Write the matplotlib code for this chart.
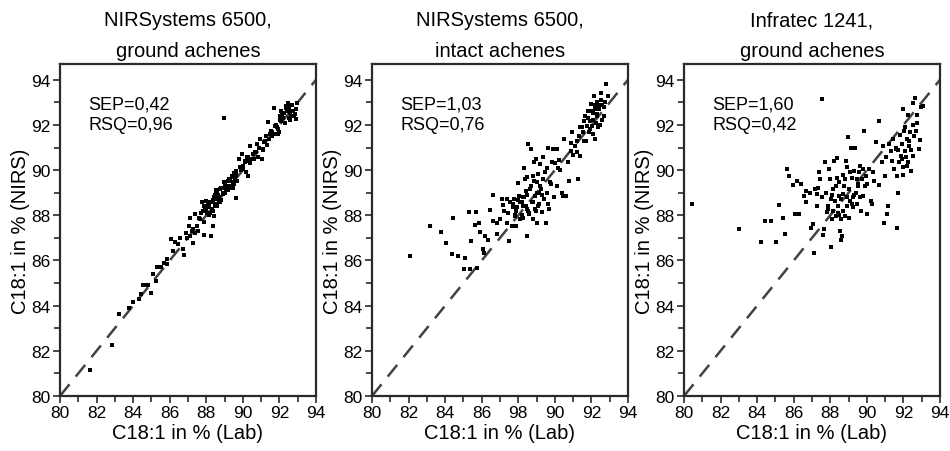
import matplotlib
matplotlib.use("Agg")
import matplotlib.pyplot as plt
from matplotlib.ticker import MultipleLocator, FixedLocator
from matplotlib import font_manager as fm

names = {f.name for f in fm.fontManager.ttflist}
fam = [n for n in ["Liberation Sans", "Arial", "DejaVu Sans"] if n in names]

titles = ["NIRSystems 6500,\nground achenes", "NIRSystems 6500,\nintact achenes", "Infratec 1241,\nground achenes"]
stats = ["SEP=0,42\nRSQ=0,96", "SEP=1,03\nRSQ=0,76", "SEP=1,60\nRSQ=0,42"]
xtick_labels = [
    ["80", "82", "84", "86", "88", "90", "92", "94"],
    ["80", "82", "84", "86", "98", "90", "92", "94"],
    ["80", "82", "84", "86", "88", "90", "92", "94"],
]
ytick_labels = ["80", "82", "84", "86", "88", "90", "92", "94"]
xlabel = "C18:1 in % (Lab)"
ylabel = "C18:1 in % (NIRS)"

# Panel 1: NIRSystems 6500, ground achenes (lab, nirs)
lab1 = [81.64, 82.83, 83.24, 83.77, 84.0, 84.34, 84.43, 84.55, 84.83, 85.0, 85.25, 85.06, 85.28, 85.55,
        85.83, 85.87, 86.8, 86.07, 86.3, 86.47, 86.56, 86.89, 87.1, 87.3, 87.05, 87.3, 87.47, 87.56,
        87.1, 87.38, 87.65, 87.87, 88.25, 88.38, 87.74, 87.87, 88.0, 88.1, 88.23, 88.4, 88.47, 88.56,
        88.71, 88.52, 88.74, 88.89, 88.96, 89.11, 89.24, 89.38, 89.47, 89.65, 89.51, 89.65, 89.84,
        90.02, 89.8, 89.98, 90.11, 90.29, 90.2, 90.38, 90.47, 90.66, 90.84, 91.02, 90.75, 90.93,
        91.15, 91.29, 91.08, 91.38, 91.56, 91.71, 91.75, 91.93, 91.71, 92.02, 92.11, 92.24, 92.38,
        92.48, 92.57, 92.75, 92.9, 92.97, 92.11, 88.96,
        87.6, 87.8, 87.9, 88.0, 88.1, 88.15, 88.3, 88.35, 88.45, 88.6, 88.65, 88.8, 88.85, 89.0,
        89.05, 89.2, 89.3, 89.35, 89.55, 89.6, 89.7, 89.9, 90.0, 90.15, 90.25, 90.4, 90.55, 90.6,
        90.9, 91.1, 91.2, 91.45, 91.6, 91.85, 92.0, 92.2, 92.3, 92.45, 92.55, 92.65, 92.7, 92.85,
        86.7, 86.95, 87.2, 87.4, 85.7, 86.2, 84.7,
        87.7, 87.95, 88.05, 88.2, 88.3, 88.4, 88.5, 88.6, 88.7, 88.8, 88.9, 89.0, 89.1, 89.2, 89.3,
        89.4, 89.5, 89.6, 88.15, 88.45, 88.75, 89.05, 89.25, 89.45, 87.85, 88.0, 88.35, 88.55,
        91.6, 91.8, 91.9, 92.05, 92.15, 92.3, 92.4, 92.5, 92.6, 92.7, 92.8, 92.35, 92.6, 92.9,
        91.3, 91.5, 90.7, 90.9, 90.3, 90.1]
nirs1 = [81.15, 82.27, 83.63, 83.88, 84.17, 84.29, 84.51, 84.92, 84.92, 84.58, 85.1, 85.4, 85.72, 85.69,
         85.84, 86.06, 86.24, 86.95, 86.83, 86.73, 86.98, 87.21, 87.1, 86.77, 87.53, 87.38, 87.53, 87.31,
         87.9, 88.05, 87.83, 87.14, 87.1, 87.53, 88.57, 88.42, 88.64, 88.35, 88.12, 87.97, 88.42, 88.72,
         88.57, 89.09, 89.16, 88.94, 89.46, 89.31, 89.6, 89.75, 89.46, 88.75, 89.87, 89.97, 90.12,
         90.05, 90.49, 90.71, 90.34, 89.75, 90.6, 91.08, 90.49, 90.79, 90.57, 90.49, 91.15, 91.38,
         91.23, 91.53, 90.94, 92.12, 91.75, 91.6, 91.97, 91.82, 92.73, 92.4, 92.62, 92.55, 92.77,
         92.99, 92.55, 92.62, 92.25, 92.96, 92.18, 92.3,
         87.9, 88.2, 87.7, 88.3, 88.5, 88.0, 88.6, 88.2, 88.8, 88.4, 88.9, 88.7, 89.2, 89.0,
         89.3, 89.1, 89.5, 89.2, 89.6, 89.9, 89.5, 90.0, 90.2, 89.9, 90.4, 90.3, 90.7, 90.5,
         91.0, 90.9, 91.3, 91.4, 91.5, 91.9, 91.7, 92.3, 92.1, 92.6, 92.8, 92.4, 92.9, 92.5,
         86.5, 87.0, 87.3, 87.2, 85.9, 86.4, 84.9,
         88.1, 88.3, 88.1, 88.6, 88.3, 88.8, 88.5, 89.0, 88.8, 89.2, 89.0, 89.4, 89.1, 89.5, 89.3,
         89.7, 89.4, 89.8, 88.4, 88.9, 88.6, 89.3, 89.6, 89.2, 88.2, 88.4, 88.7, 89.1,
         91.7, 92.0, 91.6, 92.2, 92.5, 92.1, 92.7, 92.3, 92.9, 92.6, 92.4, 92.85, 92.2, 92.7,
         91.1, 91.6, 90.8, 91.0, 90.6, 90.4]

# Panel 2: NIRSystems 6500, intact achenes
lab2 = [82.08, 83.17, 83.77, 84.05, 84.36, 84.41, 84.72, 85.05, 85.1, 85.28, 85.36, 85.39, 85.63, 85.68,
        85.72, 85.85, 85.9, 86.05, 86.12, 86.18, 86.36, 86.45, 86.63, 86.6, 86.82, 86.86, 87.0, 87.09,
        87.14, 87.22, 87.36, 87.36, 87.45, 87.51, 87.54, 87.63, 87.69, 87.76, 87.82, 87.87, 87.95,
        88.0, 88.05, 88.09, 88.18, 88.24, 88.27, 88.31, 88.36, 88.42, 88.45, 88.49, 88.54, 88.6,
        88.64, 88.69, 88.73, 88.78, 88.82, 88.86, 88.91, 88.97, 89.0, 89.04, 89.09, 89.15, 89.19,
        89.22, 89.28, 89.33, 89.37, 89.4, 89.46, 89.51, 89.55, 89.59, 89.64, 89.69, 89.73, 89.82,
        89.88, 89.95, 90.1, 90.13, 90.19, 90.24, 90.37, 90.46, 90.5, 90.6, 90.73, 90.79, 90.86,
        90.92, 91.01, 91.1, 91.19, 91.28, 91.34, 91.37, 91.46, 91.55, 91.59, 91.65, 91.7, 91.74,
        91.79, 91.85, 91.92, 91.96, 92.01, 92.07, 92.1, 92.16, 92.19, 92.25, 92.28, 92.32, 92.37,
        92.37, 92.8, 92.9, 92.7, 92.6, 92.5,
        87.7, 87.9, 88.1, 88.2, 88.3, 88.4, 88.5, 88.6, 88.7, 88.8, 88.9, 89.0, 89.1, 89.2, 89.3,
        88.0, 88.25, 88.55, 88.85, 89.15, 87.8, 88.45, 88.95, 89.45, 89.6, 89.8, 90.0, 90.3,
        91.8, 91.9, 92.0, 92.1, 92.2, 92.3, 92.4, 92.5, 92.6, 92.7, 92.2, 92.45, 91.6, 91.9,
        92.35, 92.75, 90.9, 91.2, 91.4]
nirs2 = [86.21, 87.54, 87.27, 86.77, 86.28, 87.9, 86.21, 85.62, 86.11, 88.13, 85.62, 86.87, 87.58, 88.13,
         85.65, 87.65, 87.24, 86.53, 86.35, 87.09, 86.92, 88.23, 88.91, 87.76, 87.68, 87.17, 87.83, 88.72,
         88.45, 88.2, 88.72, 87.68, 88.1, 86.87, 88.57, 87.54, 88.35, 88.72, 87.98, 87.54, 88.35,
         89.41, 88.86, 87.83, 88.57, 88.42, 88.79, 90.1, 89.6, 89.09, 87.1, 88.27, 91.15, 88.05,
         89.16, 90.94, 88.57, 89.75, 87.83, 90.37, 88.86, 88.2, 89.46, 87.68, 89.82, 88.5, 90.27,
         89.16, 88.13, 89.6, 90.57, 88.72, 89.9, 87.65, 89.01, 90.1, 91.0, 88.3, 89.46, 90.34,
         90.94, 88.79, 90.94, 89.31, 90.1, 90.45, 89.01, 88.86, 91.38, 88.86, 90.34, 89.53, 90.86,
         91.67, 90.68, 91.08, 91.3, 89.6, 91.53, 90.64, 91.9, 91.67, 92.18, 92.4, 91.3, 91.97,
         92.62, 91.67, 92.18, 92.92, 91.97, 92.55, 91.6, 93.29, 92.7, 92.1, 93.0, 92.47, 91.9,
         92.85, 93.8, 93.3, 92.4, 92.9, 93.4,
         88.5, 88.2, 88.6, 88.0, 88.8, 88.4, 88.9, 88.1, 89.3, 88.6, 88.3, 89.0, 88.4, 89.3, 88.9,
         88.7, 87.9, 88.2, 89.5, 89.0, 88.0, 89.7, 90.5, 89.9, 88.5, 89.4, 90.3, 90.0,
         92.3, 91.8, 92.6, 92.2, 92.9, 92.4, 92.7, 93.1, 92.2, 92.8, 91.4, 92.0, 91.3, 91.8,
         92.9, 93.0, 91.2, 90.8, 91.9]

# Panel 3: Infratec 1241, ground achenes
lab3 = [80.46, 83.03, 84.2, 84.45, 84.77, 85.04, 85.22, 85.4, 85.5, 85.65, 85.76, 85.94, 86.07, 86.2,
        86.3, 86.38, 86.56, 86.67, 86.67, 86.94, 87.13, 87.07, 87.16, 87.25, 87.34, 87.4, 87.44, 87.53,
        87.58, 87.55, 87.65, 87.71, 87.76, 87.8, 87.89, 87.95, 87.98, 88.02, 88.04, 88.07, 88.13, 88.16,
        88.2, 88.26, 88.31, 88.35, 88.38, 88.42, 88.46, 88.49, 88.53, 88.57, 88.6, 88.64, 88.68, 88.71,
        88.75, 88.8, 88.86, 88.89, 88.93, 88.98, 89.04, 89.08, 89.11, 89.17, 89.22, 89.26, 89.29,
        89.35, 89.4, 89.44, 89.47, 89.53, 89.58, 89.62, 89.66, 89.71, 89.77, 89.8, 89.84, 89.89,
        89.95, 90.02, 90.13, 90.2, 90.26, 90.35, 90.5, 90.64, 90.68, 90.81, 90.86, 90.94, 90.99,
        91.04, 91.12, 91.17, 91.23, 91.3, 91.35, 91.41, 91.48, 91.59, 91.63, 91.66, 91.72, 91.77,
        91.81, 91.85, 91.9, 91.96, 92.0, 92.03, 92.08, 92.14, 92.17, 92.23, 92.26, 92.32, 92.35,
        92.41, 92.5, 92.54, 92.63, 92.69, 92.72, 92.76, 92.87, 92.9, 92.94, 93.05,
        88.1, 88.3, 88.5, 88.7, 88.9, 89.1, 89.3, 89.5, 88.4, 88.8, 89.2, 89.6, 87.9, 90.0, 90.4,
        91.7, 91.9, 92.1, 92.3, 92.5, 92.0, 92.4, 91.6, 92.2, 92.6, 86.9, 87.3, 88.6, 89.0]
nirs3 = [88.5, 87.39, 86.84, 87.76, 87.76, 86.84, 88.45, 87.9, 87.17, 90.05, 89.72, 89.34, 88.05, 89.52,
         88.05, 89.37, 88.86, 89.09, 88.6, 87.46, 86.33, 87.61, 89.16, 88.94, 89.23, 89.9, 89.6, 88.79,
         87.12, 93.15, 87.39, 90.37, 89.01, 88.13, 88.42, 90.05, 89.6, 88.72, 86.58, 87.83, 89.16, 88.2,
         90.42, 88.64, 87.98, 89.67, 90.53, 88.42, 88.86, 89.46, 87.31, 87.83, 88.72, 87.09, 88.2, 88.94,
         89.31, 87.98, 90.42, 88.79, 90.12, 91.45, 89.16, 88.64, 91.0, 89.67, 88.79, 88.35, 89.97,
         91.0, 89.01, 89.6, 88.5, 89.31, 89.9, 88.79, 88.2, 89.6, 90.05, 88.86, 91.75, 89.31,
         89.75, 88.05, 90.05, 88.64, 88.5, 89.9, 91.23, 92.18, 89.34, 90.34, 91.08, 87.68, 89.75,
         90.6, 88.05, 88.42, 91.15, 90.86, 90.42, 91.38, 90.05, 90.94, 87.42, 89.75, 89.01, 90.34,
         91.56, 90.64, 91.15, 90.16, 92.7, 91.75, 90.86, 90.57, 91.38, 92.45, 90.34, 91.08, 91.67,
         89.97, 90.64, 92.96, 93.18, 91.75, 92.1, 92.43, 90.94, 91.34, 92.79, 92.85,
         88.9, 89.3, 88.0, 89.8, 88.4, 89.9, 88.9, 89.4, 88.1, 89.6, 88.5, 90.2, 88.3, 89.4, 89.5,
         90.9, 90.5, 91.9, 91.3, 92.0, 89.8, 90.9, 91.0, 90.2, 91.5, 89.0, 88.4, 86.9, 87.9]

labs = [lab1, lab2, lab3]
nirss = [nirs1, nirs2, nirs3]

fig = plt.figure(figsize=(9.5, 4.52), dpi=100)
lefts = [60 / 950, 372 / 950, 684 / 950]
W = 256 / 950
B = (452 - 397) / 452
H = 332 / 452
spine_c = "#2a2a2a"

for i in range(3):
    ax = fig.add_axes([lefts[i], B, W, H])
    ax.set_xlim(80, 94)
    ax.set_ylim(80, 94.7)
    ax.plot([80, 94], [80, 94], linestyle=(0, (6, 4)), color="#3c4446", linewidth=1.8, zorder=1)
    ax.scatter(labs[i], nirss[i], marker="s", s=6, color="black", linewidths=0, zorder=2)
    ax.xaxis.set_major_locator(FixedLocator(range(80, 95, 2)))
    ax.yaxis.set_major_locator(FixedLocator(range(80, 95, 2)))
    ax.xaxis.set_minor_locator(MultipleLocator(1))
    ax.yaxis.set_minor_locator(MultipleLocator(1))
    ax.set_xticklabels(xtick_labels[i], family=fam, fontsize=12.5)
    ax.set_yticklabels(ytick_labels, family=fam, fontsize=12.5)
    ax.tick_params(which="major", direction="out", length=5, width=1.2, color=spine_c, pad=1.5)
    ax.tick_params(which="minor", direction="out", length=4, width=1.2, color=spine_c)
    for sp in ax.spines.values():
        sp.set_linewidth(1.6)
        sp.set_color(spine_c)
    ax.set_xlabel(xlabel, family=fam, fontsize=14.5, labelpad=2)
    ax.set_ylabel(ylabel, family=fam, fontsize=14.5, labelpad=1)
    ax.set_title(titles[i], family=fam, fontsize=14.5, linespacing=1.75, pad=6)
    ax.text(0.11, 0.905, stats[i], transform=ax.transAxes, family=fam, fontsize=13,
            va="top", ha="left", linespacing=1.25)

fig.savefig("out.png", dpi=100)
